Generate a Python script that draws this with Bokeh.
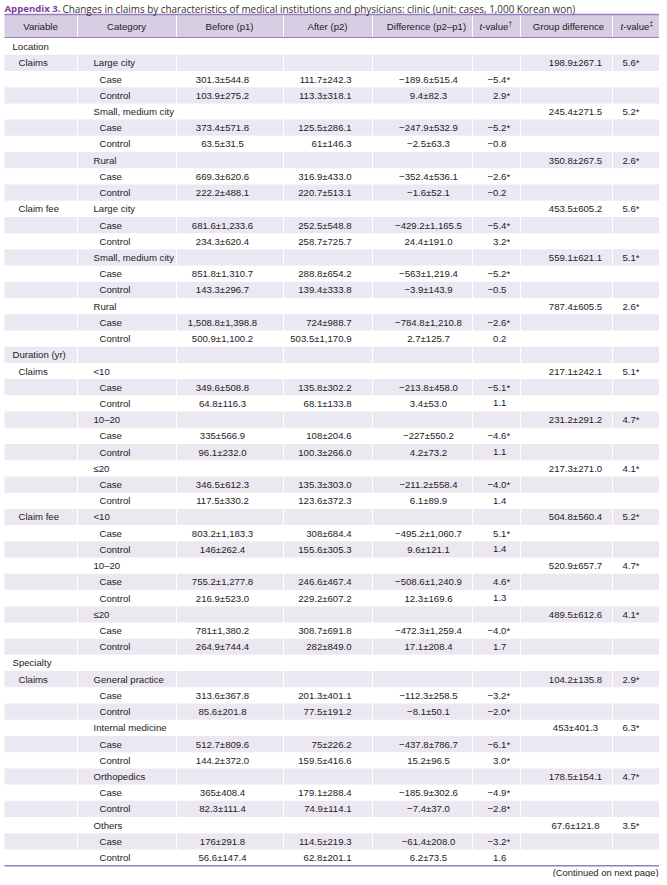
from bokeh.plotting import figure
from bokeh.models import Range1d, ColumnDataSource
from bokeh.embed import file_html
from bokeh.resources import INLINE
from bokeh.core.properties import value

# ---------------- data ----------------
title_bold = "Appendix 3."
title_rest = "Changes in claims by characteristics of medical institutions and physicians: clinic (unit: cases, 1,000 Korean won)"
headers = ["Variable", "Category", "Before (p1)", "After (p2)", "Difference (p2\u2013p1)", "Group difference"]
footnote = "(Continued on next page)"

section_rows = [0, 19, 38]
section_labels = ["Location", "Duration (yr)", "Specialty"]

variable = ["", "Claims", "", "", "", "", "", "", "", "",
            "Claim fee", "", "", "", "", "", "", "", "",
            "", "Claims", "", "", "", "", "", "", "", "",
            "Claim fee", "", "", "", "", "", "", "", "",
            "", "Claims", "", "", "", "", "", "", "", "", "", "", ""]

category = ["", "Large city", "Case", "Control", "Small, medium city", "Case", "Control", "Rural", "Case", "Control",
            "Large city", "Case", "Control", "Small, medium city", "Case", "Control", "Rural", "Case", "Control",
            "", "<10", "Case", "Control", "10\u201320", "Case", "Control", "\u226420", "Case", "Control",
            "<10", "Case", "Control", "10\u201320", "Case", "Control", "\u226420", "Case", "Control",
            "", "General practice", "Case", "Control", "Internal medicine", "Case", "Control",
            "Orthopedics", "Case", "Control", "Others", "Case", "Control"]

before = ["", "", "301.3\u00b1544.8", "103.9\u00b1275.2", "", "373.4\u00b1571.8", "63.5\u00b131.5", "", "669.3\u00b1620.6", "222.2\u00b1488.1",
          "", "681.6\u00b11,233.6", "234.3\u00b1620.4", "", "851.8\u00b11,310.7", "143.3\u00b1296.7", "", "1,508.8\u00b11,398.8", "500.9\u00b11,100.2",
          "", "", "349.6\u00b1508.8", "64.8\u00b1116.3", "", "335\u00b1566.9", "96.1\u00b1232.0", "", "346.5\u00b1612.3", "117.5\u00b1330.2",
          "", "803.2\u00b11,183.3", "146\u00b1262.4", "", "755.2\u00b11,277.8", "216.9\u00b1523.0", "", "781\u00b11,380.2", "264.9\u00b1744.4",
          "", "", "313.6\u00b1367.8", "85.6\u00b1201.8", "", "512.7\u00b1809.6", "144.2\u00b1372.0", "", "365\u00b1408.4", "82.3\u00b1111.4",
          "", "176\u00b1291.8", "56.6\u00b1147.4"]

after = ["", "", "111.7\u00b1242.3", "113.3\u00b1318.1", "", "125.5\u00b1286.1", "61\u00b1146.3", "", "316.9\u00b1433.0", "220.7\u00b1513.1",
         "", "252.5\u00b1548.8", "258.7\u00b1725.7", "", "288.8\u00b1654.2", "139.4\u00b1333.8", "", "724\u00b1988.7", "503.5\u00b11,170.9",
         "", "", "135.8\u00b1302.2", "68.1\u00b1133.8", "", "108\u00b1204.6", "100.3\u00b1266.0", "", "135.3\u00b1303.0", "123.6\u00b1372.3",
         "", "308\u00b1684.4", "155.6\u00b1305.3", "", "246.6\u00b1467.4", "229.2\u00b1607.2", "", "308.7\u00b1691.8", "282\u00b1849.0",
         "", "", "201.3\u00b1401.1", "77.5\u00b1191.2", "", "75\u00b1226.2", "159.5\u00b1416.6", "", "179.1\u00b1288.4", "74.9\u00b1114.1",
         "", "114.5\u00b1219.3", "62.8\u00b1201.1"]

difference = ["", "", "\u2212189.6\u00b1515.4", "9.4\u00b182.3", "", "\u2212247.9\u00b1532.9", "\u22122.5\u00b163.3", "", "\u2212352.4\u00b1536.1", "\u22121.6\u00b152.1",
              "", "\u2212429.2\u00b11,165.5", "24.4\u00b1191.0", "", "\u2212563\u00b11,219.4", "\u22123.9\u00b1143.9", "", "\u2212784.8\u00b11,210.8", "2.7\u00b1125.7",
              "", "", "\u2212213.8\u00b1458.0", "3.4\u00b153.0", "", "\u2212227\u00b1550.2", "4.2\u00b173.2", "", "\u2212211.2\u00b1558.4", "6.1\u00b189.9",
              "", "\u2212495.2\u00b11,060.7", "9.6\u00b1121.1", "", "\u2212508.6\u00b11,240.9", "12.3\u00b1169.6", "", "\u2212472.3\u00b11,259.4", "17.1\u00b1208.4",
              "", "", "\u2212112.3\u00b1258.5", "\u22128.1\u00b150.1", "", "\u2212437.8\u00b1786.7", "15.2\u00b196.5", "", "\u2212185.9\u00b1302.6", "\u22127.4\u00b137.0",
              "", "\u221261.4\u00b1208.0", "6.2\u00b173.5"]

t_value = ["", "", "\u22125.4*", "2.9*", "", "\u22125.2*", "\u22120.8", "", "\u22122.6*", "\u22120.2",
           "", "\u22125.4*", "3.2*", "", "\u22125.2*", "\u22120.5", "", "\u22122.6*", "0.2",
           "", "", "\u22125.1*", "1.1", "", "\u22124.6*", "1.1", "", "\u22124.0*", "1.4",
           "", "5.1*", "1.4", "", "4.6*", "1.3", "", "\u22124.0*", "1.7",
           "", "", "\u22123.2*", "\u22122.0*", "", "\u22126.1*", "3.0*", "", "\u22124.9*", "\u22122.8*",
           "", "\u22123.2*", "1.6"]

group_difference = ["", "198.9\u00b1267.1", "", "", "245.4\u00b1271.5", "", "", "350.8\u00b1267.5", "", "",
                    "453.5\u00b1605.2", "", "", "559.1\u00b1621.1", "", "", "787.4\u00b1605.5", "", "",
                    "", "217.1\u00b1242.1", "", "", "231.2\u00b1291.2", "", "", "217.3\u00b1271.0", "", "",
                    "504.8\u00b1560.4", "", "", "520.9\u00b1657.7", "", "", "489.5\u00b1612.6", "", "",
                    "", "104.2\u00b1135.8", "", "", "453\u00b1401.3", "", "", "178.5\u00b1154.1", "", "",
                    "67.6\u00b1121.8", "", ""]

t_value_group = ["", "5.6*", "", "", "5.2*", "", "", "2.6*", "", "",
                 "5.6*", "", "", "5.1*", "", "", "2.6*", "", "",
                 "", "5.1*", "", "", "4.7*", "", "", "4.1*", "", "",
                 "5.2*", "", "", "4.7*", "", "", "4.1*", "", "",
                 "", "2.9*", "", "", "6.3*", "", "", "4.7*", "", "",
                 "3.5*", "", ""]

# ---------------- layout / style ----------------
BODY_FONT = value("Liberation Sans")
TITLE_FONT = value("Open Sans")
TXT = "#1e1b1c"
PURPLE = "#7a3f9d"
LINE = "#9a7cc0"
HEAD_FILL = "#d8cee3"
ROW_FILL = "#ece8f2"
FS = "9.6px"

W, H = 659, 877
L, R = 4, 663
ROW_H = 16.22
ROW0 = 38.0
n = len(category)

p = figure(width=W, height=H, output_backend="svg", toolbar_location=None,
           x_range=Range1d(0, W), y_range=Range1d(H, 0),
           min_border=0, outline_line_color=None, background_fill_color="white")
p.xaxis.visible = False
p.yaxis.visible = False
p.grid.visible = False

tops = [ROW0 + i * ROW_H for i in range(n)]
mids = [t + ROW_H / 2 for t in tops]

# header band
p.quad(left=[L], right=[R], top=[14], bottom=[37], fill_color=HEAD_FILL, line_color=None)
# shaded rows
sh = [i for i in range(n) if i % 2 == 1]
p.quad(left=[L] * len(sh), right=[R] * len(sh), top=[tops[i] for i in sh],
       bottom=[tops[i] + ROW_H for i in sh], fill_color=ROW_FILL, line_color=None)

# white column separators
seps = [77, 176, 283, 372, 472, 520, 612]
p.segment(x0=seps, x1=seps, y0=[14] * len(seps), y1=[tops[-1] + ROW_H] * len(seps),
          line_color="white", line_width=1)

# rules
yb = tops[-1] + ROW_H
p.segment(x0=[L, L, L], x1=[R, R, R], y0=[14, 37, yb], y1=[14, 37, yb],
          line_color=LINE, line_width=[1.6, 1, 1.6])

def put(xs, ys, texts, align="left", font=BODY_FONT, size=FS, color=TXT, style="normal"):
    src = ColumnDataSource(dict(x=xs, y=ys, t=texts))
    p.text(x="x", y="y", text="t", source=src, text_font=font, text_font_size=size,
           text_color=color, text_align=align, text_baseline="middle", text_font_style=style)

# title
put([4], [8], [title_bold], font=TITLE_FONT, size="9.6px", color=PURPLE, style="bold")
put([62], [8], [title_rest], font=TITLE_FONT, size="9.9px", color="#333333")

# header
hx = [40, 126, 229, 327, 426, 568]
put(hx, [25.5] * len(hx), headers, align="center")
for x0, mark in ((479, "\u2020"), (620, "\u2021")):
    put([x0], [25.5], ["t"], style="italic")
    put([x0 + 2.7], [25.5], ["-value"])
    put([x0 + 29.0], [23.0], [mark], size="6.5px")

# section labels
put([12] * len(section_rows), [mids[i] for i in section_rows], section_labels)

def col(vals, x, align="left", xfun=None):
    idx = [i for i in range(n) if vals[i]]
    xs = [xfun(i) if xfun else x for i in idx]
    put(xs, [mids[i] for i in idx], [vals[i] for i in idx], align=align)

col(variable, 18)
col(category, None, xfun=lambda i: 99 if category[i] in ("Case", "Control") else 93)
col(before, 222, align="center")
col(after, 351, align="right")
col(difference, 428, align="center")
col(t_value, None, xfun=lambda i: 487 if t_value[i].startswith("\u2212") else 492.6)
col(group_difference, 575, align="center")
col(t_value_group, 622)

put([658], [872], [footnote], align="right", size="9.4px")

open("out.html", "w").write(file_html(p, INLINE))
